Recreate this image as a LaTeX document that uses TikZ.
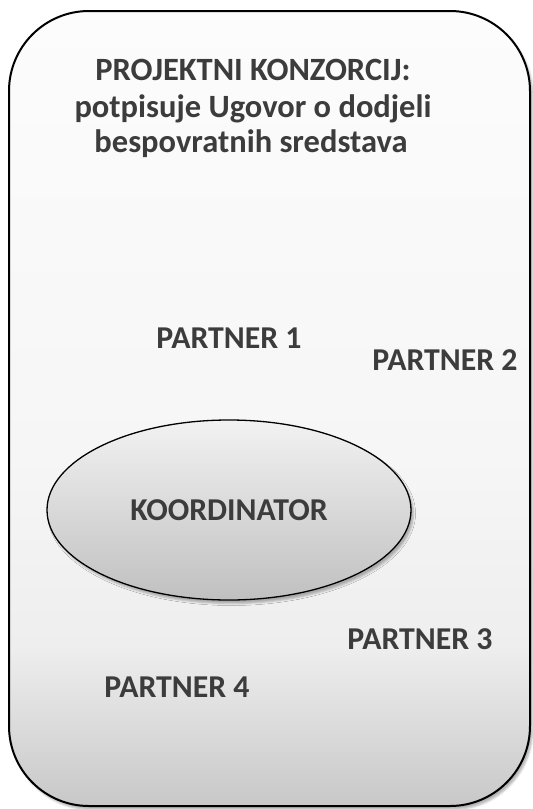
\documentclass[tikz,border=0pt]{standalone}
\usepackage{fontspec}
\setmainfont{Carlito}
\usetikzlibrary{shapes.geometric,shadows.blur}
\definecolor{txt}{HTML}{3C3C3C}
\definecolor{bxtop}{HTML}{FCFCFC}
\definecolor{bxmid}{HTML}{F6F6F6}
\definecolor{bxlow}{HTML}{EEEEEE}
\definecolor{bxbot}{HTML}{C8C8C8}
\definecolor{eltop}{HTML}{F2F2F2}
\definecolor{elbot}{HTML}{C0C0C0}
\pgfdeclareverticalshading{boxsh}{100bp}{color(0bp)=(bxbot); color(25bp)=(bxbot); color(35bp)=(bxlow); color(47bp)=(bxmid); color(75bp)=(bxtop); color(100bp)=(bxtop)}
\tikzset{
  lbl/.style={text=txt, font=\fontsize{31.8}{33}\selectfont\bfseries, inner sep=0pt},
  ttl/.style={text=txt, font=\fontsize{32.5}{36}\selectfont\bfseries, inner sep=0pt, anchor=base},
  shd/.style={blur shadow={shadow xshift=2.5pt, shadow yshift=-3.5pt, shadow blur radius=2pt, shadow opacity=30}},
}
\begin{document}
\begin{tikzpicture}[x=1pt,y=-1pt]
\useasboundingbox (0,0) rectangle (533,809);
\draw[line width=2pt, rounded corners=80pt, shading=boxsh, shd]
  (9,11) rectangle (530,806);
\node[ttl] (t1) at (253,80) {PROJEKTNI KONZORCIJ:};
\node[ttl] (t2) at (253,117) {potpisuje Ugovor o dodjeli};
\node[ttl] (t3) at (251,152) {bespovratnih sredstava};
\node[lbl] (p1) at (229,338) {PARTNER 1};
\node[lbl] (p2) at (445,360) {PARTNER 2};
\node[ellipse, draw=black, line width=1.3pt, minimum width=364pt, minimum height=180pt, inner sep=0pt,
  top color=eltop, bottom color=elbot, text=txt, font=\fontsize{31.8}{33}\selectfont\bfseries, shd]
  (k) at (229,510) {KOORDINATOR};
\node[lbl] (p3) at (420,639) {PARTNER 3};
\node[lbl] (p4) at (177,687) {PARTNER 4};
\end{tikzpicture}
\end{document}
